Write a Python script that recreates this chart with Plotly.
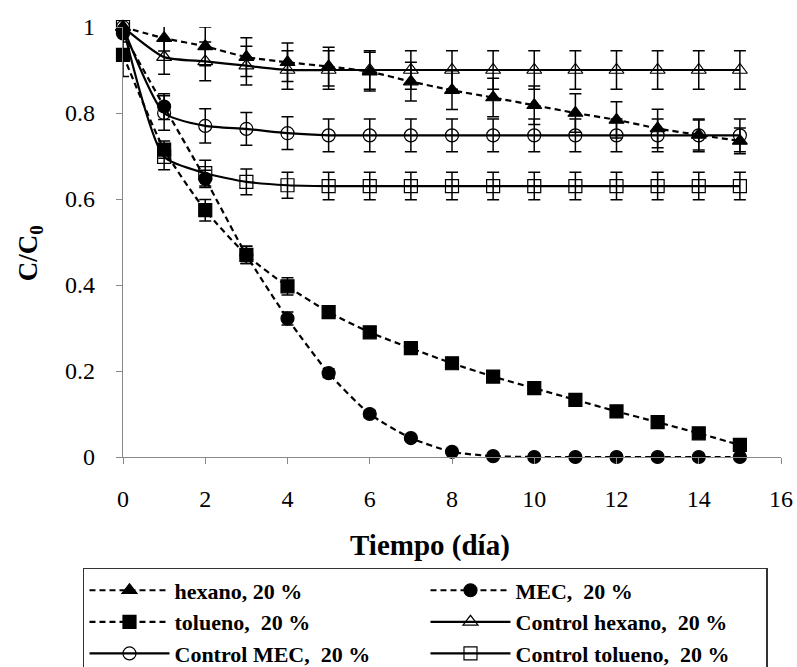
import plotly.graph_objects as go

dias = list(range(16))

hexano = [1.0, 0.974, 0.955, 0.93, 0.918, 0.908, 0.896, 0.873, 0.853, 0.836, 0.818, 0.80, 0.784, 0.764, 0.749, 0.735]
hexano_err = [0.0, 0.03, 0.045, 0.045, 0.045, 0.045, 0.045, 0.045, 0.045, 0.045, 0.045, 0.045, 0.042, 0.045, 0.035, 0.03]

mec = [0.985, 0.815, 0.647, 0.47, 0.322, 0.195, 0.10, 0.044, 0.012, 0.002, 0.0, 0.0, 0.0, 0.0, 0.0, 0.0]
mec_err = [0.02, 0.03, 0.02, 0.02, 0.015, 0.01, 0.008, 0.005, 0.004, 0.0, 0.0, 0.0, 0.0, 0.0, 0.0, 0.0]

tolueno = [0.935, 0.715, 0.574, 0.47, 0.397, 0.337, 0.29, 0.253, 0.218, 0.187, 0.16, 0.133, 0.106, 0.081, 0.055, 0.028]
tolueno_err = [0.05, 0.02, 0.025, 0.02, 0.02, 0.01, 0.008, 0.008, 0.008, 0.008, 0.008, 0.008, 0.008, 0.008, 0.008, 0.008]

ctrl_hexano = [1.0, 0.93, 0.92, 0.91, 0.90, 0.90, 0.90, 0.90, 0.90, 0.90, 0.90, 0.90, 0.90, 0.90, 0.90, 0.90]
ctrl_hexano_err = [0.0, 0.04, 0.045, 0.045, 0.045, 0.045, 0.045, 0.045, 0.045, 0.045, 0.045, 0.045, 0.045, 0.045, 0.045, 0.045]

ctrl_mec = [1.0, 0.80, 0.77, 0.763, 0.753, 0.748, 0.748, 0.748, 0.748, 0.748, 0.748, 0.748, 0.748, 0.748, 0.748, 0.748]
ctrl_mec_err = [0.0, 0.04, 0.04, 0.038, 0.038, 0.038, 0.038, 0.038, 0.038, 0.038, 0.038, 0.038, 0.038, 0.038, 0.038, 0.038]

ctrl_tolueno = [1.0, 0.698, 0.66, 0.64, 0.632, 0.63, 0.63, 0.63, 0.63, 0.63, 0.63, 0.63, 0.63, 0.63, 0.63, 0.63]
ctrl_tolueno_err = [0.0, 0.03, 0.03, 0.03, 0.03, 0.032, 0.032, 0.032, 0.032, 0.032, 0.032, 0.032, 0.032, 0.032, 0.032, 0.032]

x_ticks = list(range(0, 17, 2))
y_ticks = [0, 0.2, 0.4, 0.6, 0.8, 1]
y_ticktext = ["0", "0.2", "0.4", "0.6", "0.8", "1"]

FONT = "Liberation Serif"

series = [
    ("hexano, 20 %", hexano, hexano_err, "triangle-up", "6px,4px"),
    ("MEC,  20 %", mec, mec_err, "circle", "6px,4px"),
    ("tolueno,  20 %", tolueno, tolueno_err, "square", "6px,4px"),
    ("Control hexano,  20 %", ctrl_hexano, ctrl_hexano_err, "triangle-up-open", "solid"),
    ("Control MEC,  20 %", ctrl_mec, ctrl_mec_err, "circle-open", "solid"),
    ("Control tolueno,  20 %", ctrl_tolueno, ctrl_tolueno_err, "square-open", "solid"),
]

fig = go.Figure()
for name, ys, err, sym, dash in series:
    fig.add_trace(go.Scatter(
        x=dias, y=ys, name=name, mode="lines+markers",
        line=dict(color="black", width=2.2, dash=dash, shape="spline", smoothing=0.6),
        marker=dict(symbol=sym, size=13, color="black", line=dict(color="black", width=1.2)),
        error_y=dict(type="data", array=err, visible=True, color="black", thickness=1.5, width=6),
        cliponaxis=False,
    ))

fig.update_layout(
    width=797, height=667,
    margin=dict(l=123, r=16, t=27, b=210, autoexpand=False),
    plot_bgcolor="white", paper_bgcolor="white",
    font=dict(family=FONT, color="black", size=22),
    showlegend=True,
    legend=dict(
        orientation="h", x=-0.0608, xanchor="left", y=-0.258, yanchor="top",
        entrywidth=246, entrywidthmode="pixels",
        bordercolor="#333", borderwidth=1.5, bgcolor="white",
        font=dict(family=FONT, size=22, color="black", weight="bold"),
        tracegroupgap=0, itemwidth=80,
    ),
    xaxis=dict(
        range=[0, 16], tickvals=x_ticks,
        showgrid=False, zeroline=False, showline=True, linecolor="#888", linewidth=1.2,
        ticks="outside", ticklen=6, tickcolor="#888",
        tickfont=dict(family=FONT, size=24, color="black"),
        ticklabelstandoff=14,
    ),
    yaxis=dict(
        range=[0, 1], tickvals=y_ticks, ticktext=y_ticktext,
        showgrid=False, zeroline=False, showline=True, linecolor="#888", linewidth=1.2,
        ticks="outside", ticklen=6, tickcolor="#888",
        tickfont=dict(family=FONT, size=24, color="black"),
        ticklabelstandoff=16,
    ),
    annotations=[
        dict(text="<b>Tiempo (día)</b>", xref="paper", yref="paper", x=0.4666, y=-0.205,
             xanchor="center", yanchor="middle", showarrow=False,
             font=dict(family=FONT, size=29, color="black")),
        dict(text="<b>C/C<sub>0</sub></b>", xref="paper", yref="paper", x=-0.1413, y=0.474,
             xanchor="center", yanchor="middle", showarrow=False, textangle=-90,
             font=dict(family=FONT, size=27, color="black")),
    ],
)

fig.write_html("out.html")
